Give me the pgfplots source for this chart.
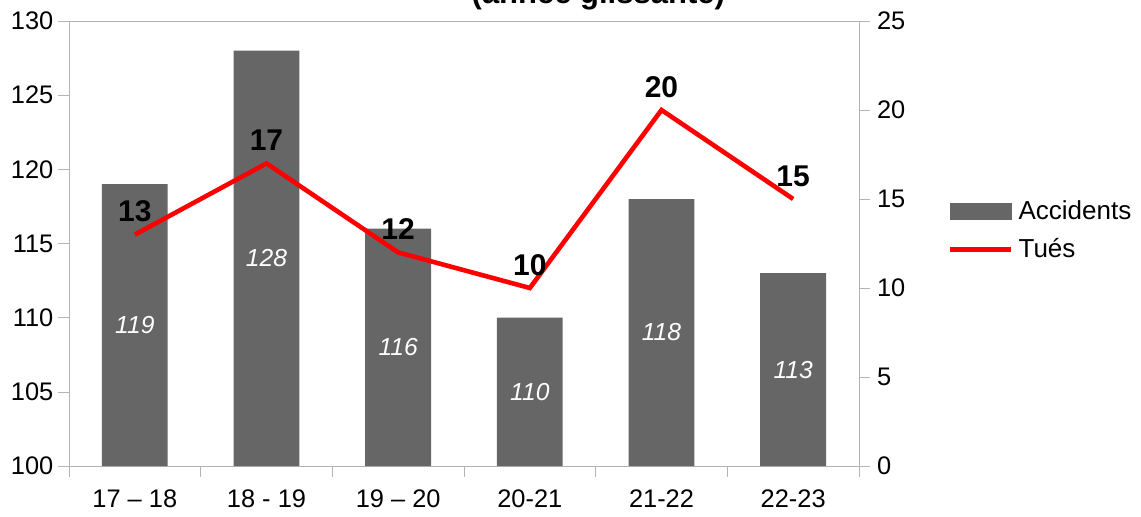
\documentclass[border=0pt]{standalone}
\usepackage{fontspec}
\setmainfont{Liberation Sans}
\usepackage{pgfplots}
\pgfplotsset{compat=1.18}
\definecolor{bargray}{HTML}{666666}
\definecolor{axgray}{HTML}{B3B3B3}
\pgfplotsset{
  barlegend/.style={legend image code/.code={\fill[bargray] (0pt,-4pt) rectangle (30.5pt,4pt); \path (31pt,0pt);}},
  linelegend/.style={legend image code/.code={\draw[red, line width=2.3pt] (0pt,0pt) -- (30.5pt,0pt); \path (31pt,0pt);}},
}
\begin{document}
\begin{tikzpicture}
\begin{axis}[
  at={(34.5pt,25pt)}, anchor=south west,
  scale only axis, width=395pt, height=222.5pt,
  xmin=-0.5, xmax=5.5, ymin=100, ymax=130,
  ytick={100,105,...,130},
  xtick={0,...,5},
  xticklabels={17 – 18, 18 - 19, 19 – 20, 20-21, 21-22, 22-23},
  minor xtick={-0.5,0.5,...,5.5},
  major x tick style={draw=none},
  minor x tick style={draw=axgray},
  tick align=outside,
  major tick length=5.5pt, minor tick length=5.5pt,
  ytick pos=left, xtick pos=bottom,
  axis line style={draw=axgray},
  tick style={draw=axgray},
  yticklabel style={font=\fontsize{12.7}{15}\selectfont, xshift=1.2pt},
  xticklabel style={font=\fontsize{12.7}{15}\selectfont, yshift=-3pt},
  /pgf/number format/assume math mode=true,
  title={\fontsize{15.5}{18}\selectfont\bfseries (année glissante)},
  title style={at={(0.670,1)}, anchor=base, yshift=3pt},
]
\addplot[ybar, bar width=0.5, fill=bargray, draw=none]
  coordinates {(0,119) (1,128) (2,116) (3,110) (4,118) (5,113)};
\addplot[draw=none, mark=none, nodes near coords, point meta=explicit symbolic,
  every node near coord/.append style={anchor=center, text=white,
    font=\fontsize{12.3}{14}\selectfont\itshape}]
  coordinates {(0,109.5)[119] (1,114)[128] (2,108)[116] (3,105)[110] (4,109)[118] (5,106.5)[113]};
\end{axis}
\begin{axis}[
  at={(34.5pt,25pt)}, anchor=south west,
  scale only axis, width=395pt, height=222.5pt,
  xmin=-0.5, xmax=5.5, ymin=0, ymax=25,
  axis x line=none, axis y line*=right,
  ytick={0,5,...,25},
  tick align=outside, major tick length=5.5pt,
  axis line style={draw=axgray},
  tick style={draw=axgray},
  yticklabel style={font=\fontsize{12.7}{15}\selectfont},
  /pgf/number format/assume math mode=true,
  clip=false,
  legend style={at={(1,0.529)}, anchor=west, xshift=44.3pt, draw=none, fill=none,
    font=\fontsize{13}{15.6}\selectfont, row sep=4pt, inner sep=0pt},
  legend cell align=left,
]
\addlegendimage{barlegend}
\addlegendentry{Accidents}
\addplot[red, line width=2.3pt, linelegend, nodes near coords, point meta=explicit symbolic,
  every node near coord/.append style={anchor=base, yshift=6.5pt, text=black,
    font=\fontsize{15}{18}\selectfont\bfseries}]
  coordinates {(0,13)[13] (1,17)[17] (2,12)[12] (3,10)[10] (4,20)[20] (5,15)[15]};
\addlegendentry{Tués}
\end{axis}
\pgfresetboundingbox
\path[use as bounding box] (0,0) rectangle (570.5pt,258pt);
\end{tikzpicture}
\end{document}
